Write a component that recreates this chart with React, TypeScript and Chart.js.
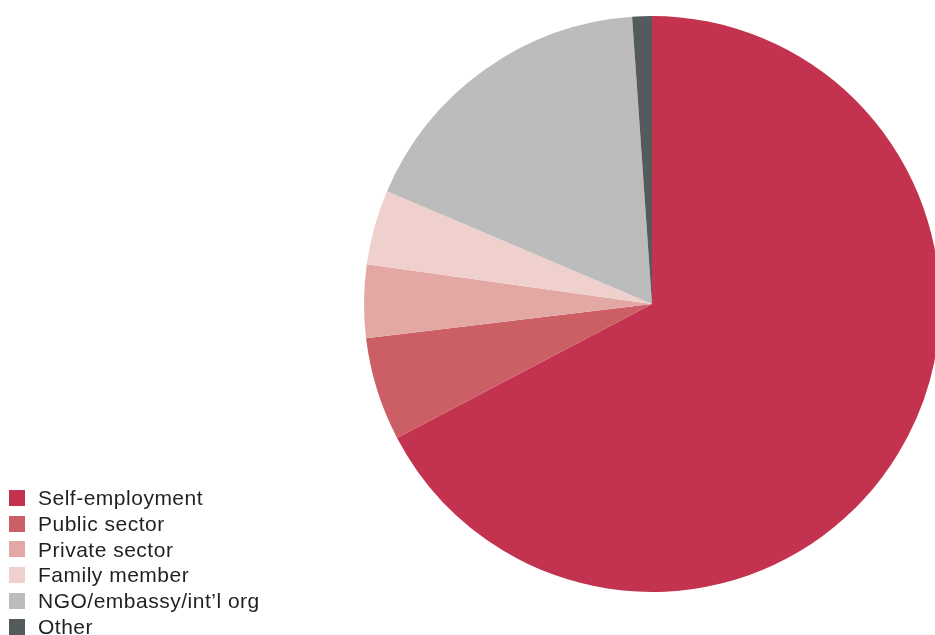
import React, { useEffect, useRef } from "react";
import { Chart, registerables } from "chart.js";

Chart.register(...registerables);

const categories = [
  "Self-employment",
  "Public sector",
  "Private sector",
  "Family member",
  "NGO/embassy/int\u2019l org",
  "Other",
];
const shares = [67.3, 5.8, 4.1, 4.2, 17.5, 1.1];
const colors = ["#C3324E", "#CC5F65", "#E3A7A4", "#F0D0CD", "#BCBCBC", "#555A5C"];

export default function App() {
  const ref = useRef<HTMLCanvasElement | null>(null);

  useEffect(() => {
    if (!ref.current) return;
    const chart = new Chart(ref.current, {
      type: "pie",
      data: {
        labels: categories,
        datasets: [
          {
            data: shares,
            backgroundColor: colors,
            borderWidth: 0,
          },
        ],
      },
      options: {
        animation: false,
        responsive: true,
        maintainAspectRatio: false,
        layout: { padding: { left: 364, right: 10, top: 16, bottom: 43 } },
        plugins: {
          legend: { display: false },
          tooltip: { enabled: false },
        },
      },
    });
    return () => chart.destroy();
  }, []);

  return (
    <div
      style={{
        position: "absolute",
        left: 0,
        top: 0,
        width: 935,
        height: 635,
        overflow: "hidden",
        background: "#fff",
      }}
    >
      <div style={{ position: "absolute", left: 0, top: 0, width: 950, height: 635 }}>
        <canvas ref={ref} />
      </div>
      <div
        style={{
          position: "absolute",
          left: 9,
          top: 485,
          fontFamily: "'Liberation Sans', Arial, sans-serif",
          fontSize: 21,
          color: "#231f20",
        }}
      >
        {categories.map((c, i) => (
          <div
            key={c}
            style={{ display: "flex", alignItems: "center", height: 25.8, whiteSpace: "nowrap" }}
          >
            <span
              style={{
                display: "inline-block",
                width: 16,
                height: 16,
                background: colors[i],
                marginRight: 13,
              }}
            />
            <span style={{ lineHeight: "25.8px", letterSpacing: 0.5 }}>{c}</span>
          </div>
        ))}
      </div>
    </div>
  );
}
